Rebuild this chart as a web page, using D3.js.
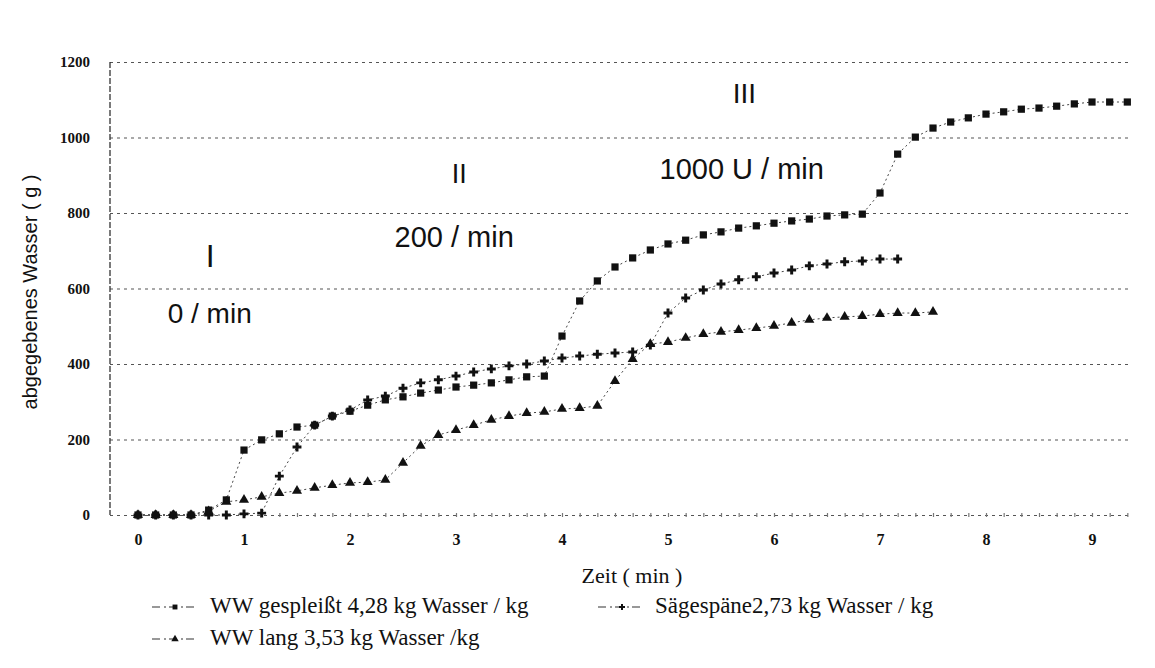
<!DOCTYPE html>
<html>
<head>
<meta charset="utf-8">
<script src="https://cdn.jsdelivr.net/npm/d3@7"></script>
<style>
  body { margin: 0; background: #fff; }
</style>
</head>
<body>
<div class="diagram"></div>
<script>
// Messzeitpunkte (alle 10 s)
const zeitSek = [0,10,20,30,40,50,60,70,80,90,100,110,120,130,140,150,160,170,180,190,
  200,210,220,230,240,250,260,270,280,290,300,310,320,330,340,350,360,370,380,390,
  400,410,420,430,440,450,460,470,480,490,500,510,520,530,540,550,560];

// abgegebenes Wasser (g)
const wwGespleisst = [0,0,0,0,13,40,172,199,215,233,238,262,275,291,305,313,323,331,339,344,
  350,358,366,368,474,567,620,657,681,702,718,728,742,750,760,766,773,779,784,792,
  795,797,853,956,1001,1025,1041,1052,1062,1068,1075,1078,1083,1089,1094,1094,1094];
const saegespaene = [0,0,0,0,0,0,3,5,103,180,238,262,278,305,315,336,350,358,368,379,
  387,395,400,408,416,421,426,429,432,450,535,575,596,612,623,631,641,649,660,665,
  671,673,678,678];
const wwLang = [0,0,0,0,10,35,40,48,58,64,72,79,85,87,93,138,183,212,225,238,
  252,262,270,273,281,283,289,355,413,453,458,469,479,485,490,495,501,509,517,522,
  525,527,532,535,535,538];

const yTicks = [0, 200, 400, 600, 800, 1000, 1200];
const xTicks = [0, 1, 2, 3, 4, 5, 6, 7, 8, 9];

const legendNames = ["WW gespleißt 4,28 kg Wasser / kg", "Sägespäne2,73 kg Wasser / kg", "WW lang 3,53 kg Wasser /kg"];

// Beschriftung der Phasen (Zeit in min, Wasser in g)
const phaseLabels = [
  {text: "I", t: 0.68, v: 657, size: 32, anchor: "middle"},
  {text: "0 / min", t: 0.28, v: 509, size: 28, anchor: "start"},
  {text: "II", t: 3.03, v: 879, size: 27, anchor: "middle"},
  {text: "200 / min", t: 2.42, v: 710, size: 29, anchor: "start"},
  {text: "III", t: 5.72, v: 1091, size: 28, anchor: "middle"},
  {text: "1000 U / min", t: 4.92, v: 890, size: 29, anchor: "start"}
];

const width = 1155, height = 668;
const left = 110, right = 1130;

const svg = d3.select(".diagram")
  .append("svg")
    .attr("width", width)
    .attr("height", height)
    .style("font-family", "'Liberation Sans', Arial, sans-serif");

const x = d3.scaleLinear().domain([0, 9]).range([138, 1092]);
const y = d3.scaleLinear().domain([0, 1200]).range([515, 62]);

// Gitterlinien + y-Beschriftung
const yAxis = svg.append("g")
  .attr("transform", `translate(${left},0)`)
  .call(d3.axisLeft(y).tickValues(yTicks).tickFormat(d3.format("d"))
    .tickSize(-(right - left)).tickPadding(20));
yAxis.select(".domain").remove();
yAxis.selectAll(".tick line")
  .attr("stroke", "#555")
  .attr("stroke-width", 1.2)
  .attr("stroke-dasharray", "3,4");
yAxis.selectAll(".tick text")
  .attr("fill", "#111")
  .style("font-family", "'Liberation Serif', serif")
  .style("font-weight", "bold")
  .style("font-size", "15px");

// senkrechte Achse
svg.append("line")
  .attr("x1", left).attr("x2", left)
  .attr("y1", y(1200)).attr("y2", y(0))
  .attr("stroke", "#333")
  .attr("stroke-width", 1.3)
  .attr("stroke-dasharray", "6,2");

// x-Achse
const xAxis = svg.append("g")
  .attr("transform", `translate(0,${y(0)})`)
  .call(d3.axisBottom(x).tickValues(xTicks).tickSize(0).tickPadding(19));
xAxis.select(".domain").remove();
xAxis.selectAll(".tick text")
  .attr("fill", "#111")
  .style("font-family", "'Liberation Serif', serif")
  .style("font-weight", "bold")
  .style("font-size", "16px");

// kleine Striche an der x-Achse
const minor = svg.append("g")
  .attr("transform", `translate(0,${y(0)})`)
  .call(d3.axisBottom(x).tickValues(zeitSek.map(s => s / 60)).tickSize(4).tickFormat(""));
minor.select(".domain").remove();
minor.selectAll(".tick line")
  .attr("stroke", "#777")
  .attr("stroke-width", 1.2)
  .attr("transform", "translate(0,-2)");

// Achsentitel
svg.append("text")
  .attr("transform", "translate(37,292) rotate(-90)")
  .attr("text-anchor", "middle")
  .attr("fill", "#111")
  .style("font-size", "20px")
  .text("abgegebenes Wasser ( g )");

svg.append("text")
  .attr("x", 632)
  .attr("y", 583)
  .attr("text-anchor", "middle")
  .attr("fill", "#111")
  .style("font-family", "'Liberation Serif', serif")
  .style("font-size", "22px")
  .text("Zeit ( min )");

// Phasen
svg.selectAll(".phase")
  .data(phaseLabels)
  .enter().append("text")
    .attr("class", "phase")
    .attr("x", d => x(d.t))
    .attr("y", d => y(d.v))
    .attr("text-anchor", d => d.anchor)
    .attr("fill", "#111")
    .style("font-size", d => d.size + "px")
    .text(d => d.text);

// Messreihen
const series = [
  {name: legendNames[0], values: wwGespleisst, symbol: d3.symbolSquare, size: 52},
  {name: legendNames[1], values: saegespaene, symbol: d3.symbolCross, size: 44},
  {name: legendNames[2], values: wwLang, symbol: d3.symbolTriangle, size: 44}
];
series.forEach(s => {
  s.points = s.values.map((v, i) => ({t: zeitSek[i] / 60, v: v}));
});

const line = d3.line()
  .x(d => x(d.t))
  .y(d => y(d.v));

series.forEach(s => {
  svg.append("path")
    .datum(s.points)
    .attr("fill", "none")
    .attr("stroke", "#444")
    .attr("stroke-width", 1)
    .attr("stroke-dasharray", "2,3")
    .attr("d", line);
});

series.forEach(s => {
  svg.append("g")
    .selectAll("path")
    .data(s.points)
    .enter().append("path")
      .attr("transform", d => `translate(${x(d.t)},${y(d.v)})`)
      .attr("d", d3.symbol().type(s.symbol).size(s.size))
      .attr("fill", "#111");
});

// Legende
const legendItems = [
  {s: series[0], lx: 152, ly: 613, tx: 210},
  {s: series[2], lx: 152, ly: 645, tx: 210},
  {s: series[1], lx: 598, ly: 613, tx: 655}
];
legendItems.forEach(item => {
  const g = svg.append("g");
  const isSaege = item.s === series[1];
  g.append("line")
    .attr("x1", item.lx).attr("x2", item.tx - 12)
    .attr("y1", item.ly - 6).attr("y2", item.ly - 6)
    .attr("stroke", "#333")
    .attr("stroke-width", 1.2)
    .attr("stroke-dasharray", "8,4,2,3");
  g.append("path")
    .attr("transform", `translate(${isSaege ? item.tx - 33 : item.lx + 23},${item.ly - 6})`)
    .attr("d", d3.symbol().type(item.s.symbol).size(isSaege ? 20 : 24))
    .attr("fill", "#111");
  g.append("text")
    .attr("x", item.tx)
    .attr("y", item.ly)
    .attr("fill", "#111")
    .style("font-family", "'Liberation Serif', serif")
    .style("font-size", "23px")
    .text(item.s.name);
});
</script>
</body>
</html>
